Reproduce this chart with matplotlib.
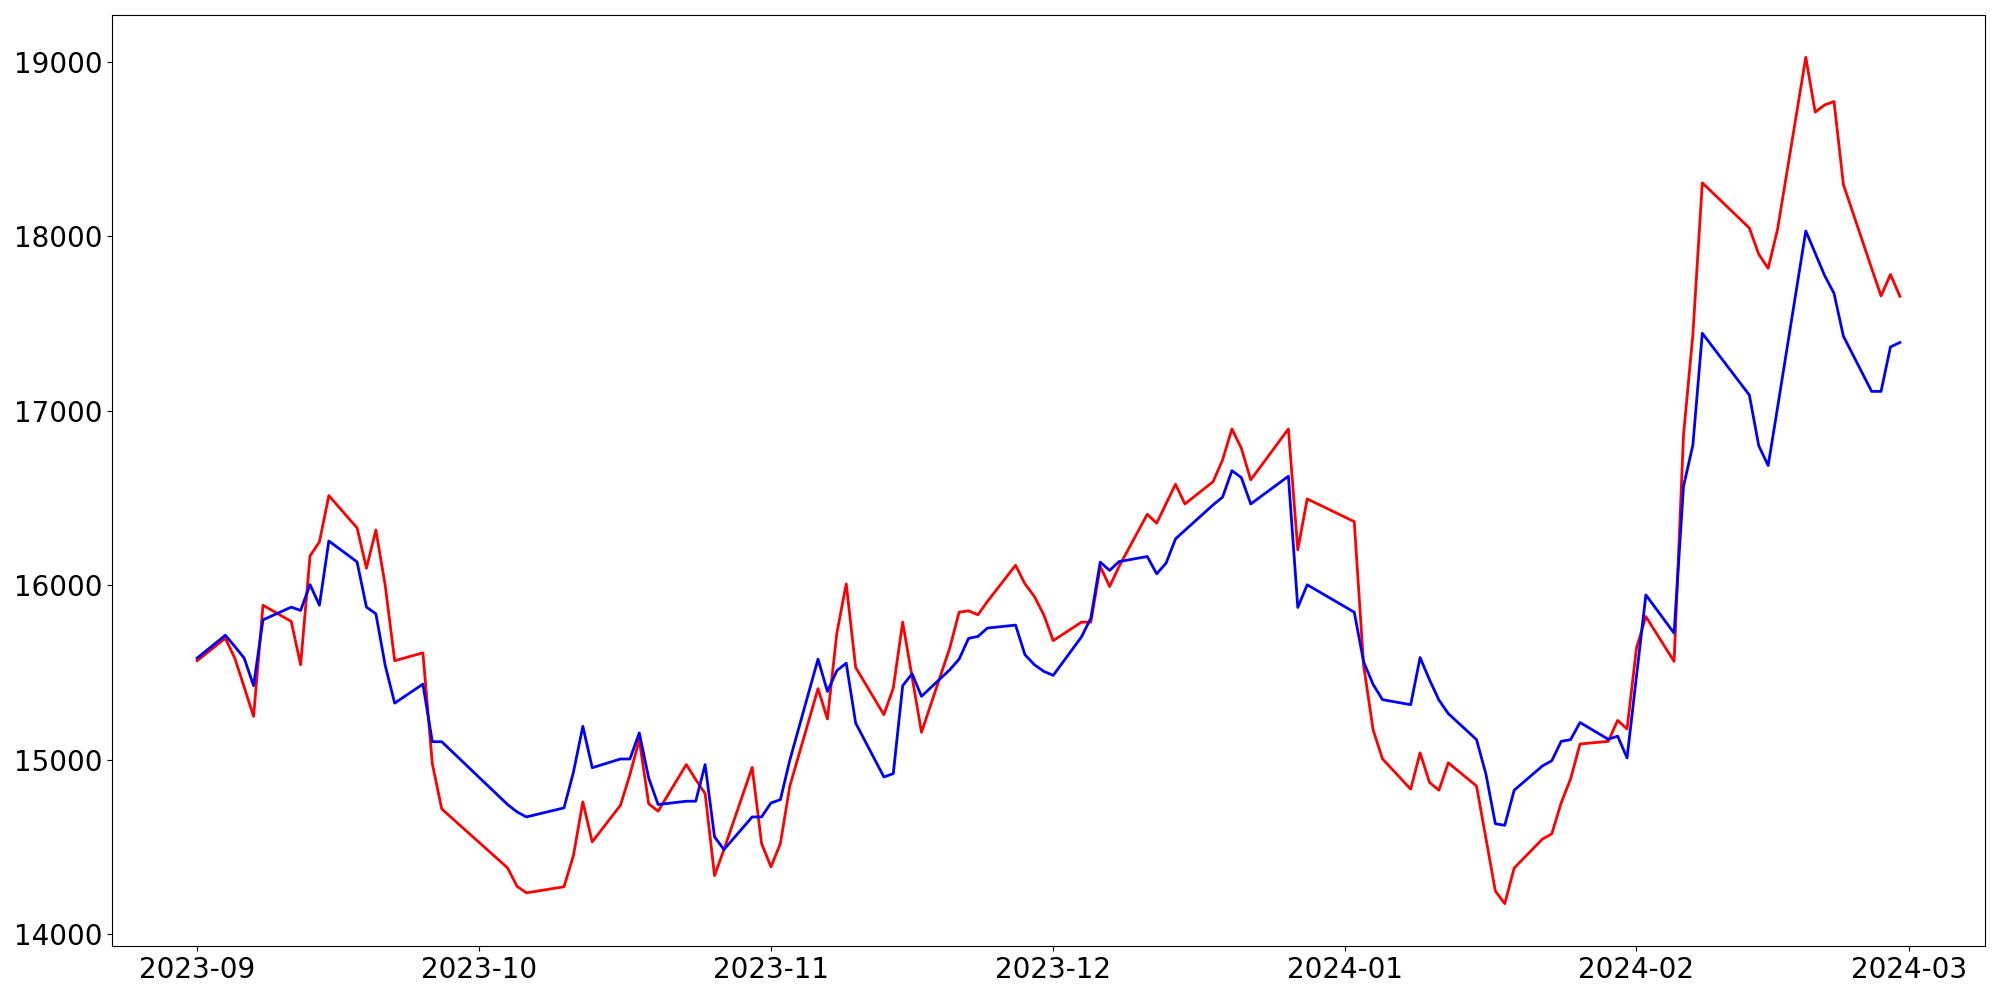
import numpy as np
import pandas as pd
import matplotlib
matplotlib.use('Agg')
import matplotlib.pyplot as plt
import matplotlib.dates as mdates

# trading days (weekdays minus market holidays)
holidays = ['2023-09-28', '2023-09-29', '2023-10-02', '2023-10-03', '2023-10-09',
            '2023-12-25', '2023-12-29', '2024-01-01', '2024-02-09', '2024-02-12']
days = pd.bdate_range('2023-09-01', '2024-02-29')
days = days[~days.isin(pd.to_datetime(holidays))]

red_sep = [15568, 15697, 15583, 15417, 15249, 15886, 15793, 15545, 16168, 16249,
           16514, 16329, 16098, 16317, 15997, 15568, 15613, 14978, 14719]
red_oct = [14381, 14276, 14238, 14273, 14452, 14759, 14530, 14740, 14915, 15116,
           14748, 14706, 14973, 14887, 14807, 14337, 14486, 14957, 14521]
red_nov = [14387, 14521, 14849, 15408, 15234, 15726, 16008, 15530, 15259, 15411, 15789,
           15474, 15158, 15640, 15846, 15854, 15831, 15907, 16115, 16008, 15936, 15831]
red_dec = [15683, 15789, 15789, 16108, 15993, 16108, 16407, 16356, 16468, 16579,
           16466, 16594, 16718, 16896, 16785, 16604, 16896, 16203, 16495]
red_jan = [16365, 15541, 15173, 15006, 14832, 15040, 14871, 14826, 14983, 14850, 14550,
           14249, 14176, 14380, 14546, 14576, 14754, 14891, 15091, 15106, 15226, 15177]
red_feb = [15640, 15821, 15564, 16860, 17438, 18306, 18047, 17897, 17816, 18040,
           19025, 18711, 18752, 18772, 18296, 17816, 17658, 17781, 17656]

blue_sep = [15583, 15714, 15650, 15583, 15425, 15802, 15875, 15856, 16004, 15886,
            16254, 16134, 15875, 15837, 15539, 15325, 15434, 15104, 15104]
blue_oct = [14744, 14702, 14673, 14725, 14929, 15192, 14955, 15005, 15005, 15154,
            14896, 14744, 14763, 14763, 14973, 14559, 14486, 14673, 14673]
blue_nov = [14753, 14772, 14998, 15577, 15392, 15511, 15554, 15211, 14902, 14921, 15425,
            15493, 15364, 15516, 15577, 15696, 15707, 15755, 15772, 15602, 15545, 15507]
blue_dec = [15484, 15704, 15812, 16133, 16085, 16136, 16165, 16066, 16127, 16266,
            16315, 16461, 16505, 16657, 16617, 16466, 16625, 15873, 16003]
blue_jan = [15846, 15561, 15433, 15345, 15316, 15586, 15459, 15343, 15265, 15116, 14918,
            14634, 14625, 14826, 14965, 14995, 15106, 15116, 15214, 15118, 15136, 15011]
blue_feb = [15478, 15945, 15726, 16567, 16804, 17444, 17090, 16800, 16686, 17019,
            18030, 17903, 17775, 17673, 17427, 17111, 17111, 17366, 17391]

red = np.array(red_sep + red_oct + red_nov + red_dec + red_jan + red_feb)
blue = np.array(blue_sep + blue_oct + blue_nov + blue_dec + blue_jan + blue_feb)

#=========================
plt.rcParams.update({'font.size': 20})
fig = plt.figure(figsize=(20.0, 10.0))
ax = fig.add_subplot(111)
ax.plot(days, red, color='red', linewidth=2)
ax.plot(days, blue, color='blue', linewidth=2)
ax.xaxis.set_major_locator(mdates.MonthLocator())
ax.xaxis.set_major_formatter(mdates.DateFormatter('%Y-%m'))
fig.subplots_adjust(left=0.056, right=0.9925, top=0.985, bottom=0.054)
plt.savefig('out.png', dpi=100)
#=========================
